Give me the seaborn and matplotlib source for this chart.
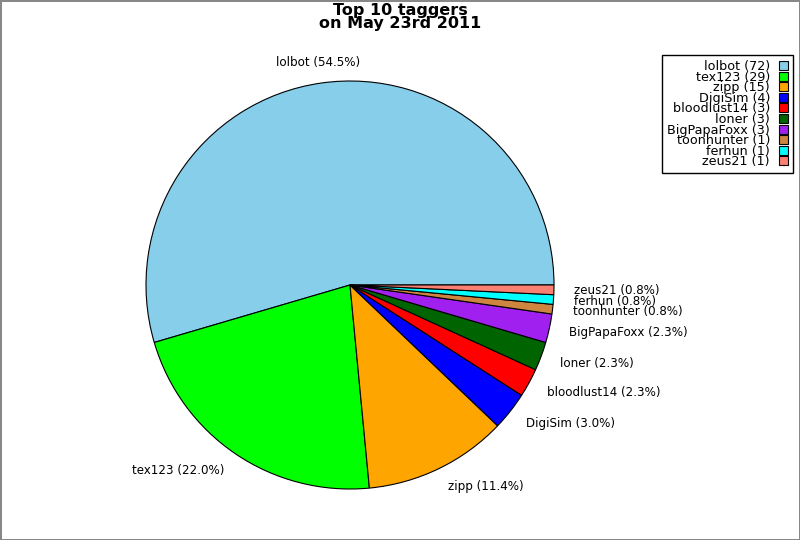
import matplotlib
matplotlib.use("Agg")
import matplotlib.pyplot as plt
import seaborn as sns

# data
taggers = ['lolbot', 'tex123', 'zipp', 'DigiSim', 'bloodlust14', 'loner',
           'BigPapaFoxx', 'toonhunter', 'ferhun', 'zeus21']
counts = [72, 29, 15, 4, 3, 3, 3, 1, 1, 1]
colors = ['#87CEEB', '#00FF00', '#FFA500', '#0000FF', '#FF0000', '#006400',
          '#A020F0', '#CD853F', '#00FFFF', '#FA8072']

total = sum(counts)
pie_labels = ['%s (%.1f%%)' % (n, 100.0 * c / total) for n, c in zip(taggers, counts)]
legend_labels = ['%s (%d)' % (n, c) for n, c in zip(taggers, counts)]

sns.set_style("white")
plt.rcParams['font.family'] = ['DejaVu Sans']
plt.rcParams['text.color'] = 'black'

fig = plt.figure(figsize=(8, 5.4), dpi=100)
ax = fig.add_axes([146 / 800, 51 / 540, 408 / 800, 408 / 540])

wedges, texts = ax.pie(counts, labels=pie_labels, colors=colors, startangle=0,
                       counterclock=True, labeldistance=1.1,
                       wedgeprops={'edgecolor': 'black', 'linewidth': 0.8},
                       textprops={'fontsize': 8.6, 'color': 'black'})
texts[0].set_horizontalalignment('center')
ax.set_xlim(-1, 1)
ax.set_ylim(-1, 1)
ax.set_axis_off()

fig.suptitle('Top 10 taggers\non May 23rd 2011', fontsize=11.5, fontweight='bold',
             y=1 - 3 / 540, va='top', linespacing=0.85, color='black')

leg = fig.legend(wedges, legend_labels, loc='upper right',
                 bbox_to_anchor=(793 / 800, 1 - 55 / 540), markerfirst=False,
                 fontsize=9.2, labelspacing=-0.19, handlelength=0.7, handleheight=0.7,
                 handletextpad=0.7, borderpad=0.4, borderaxespad=0,
                 fancybox=False, framealpha=1, edgecolor='black')
leg.get_frame().set_linewidth(1.0)
for t in leg.get_texts():
    t.set_color('black')

fig.patch.set_edgecolor('#888888')
fig.patch.set_linewidth(2)

fig.savefig('out.png', dpi=100, facecolor='white', edgecolor=fig.get_edgecolor())
